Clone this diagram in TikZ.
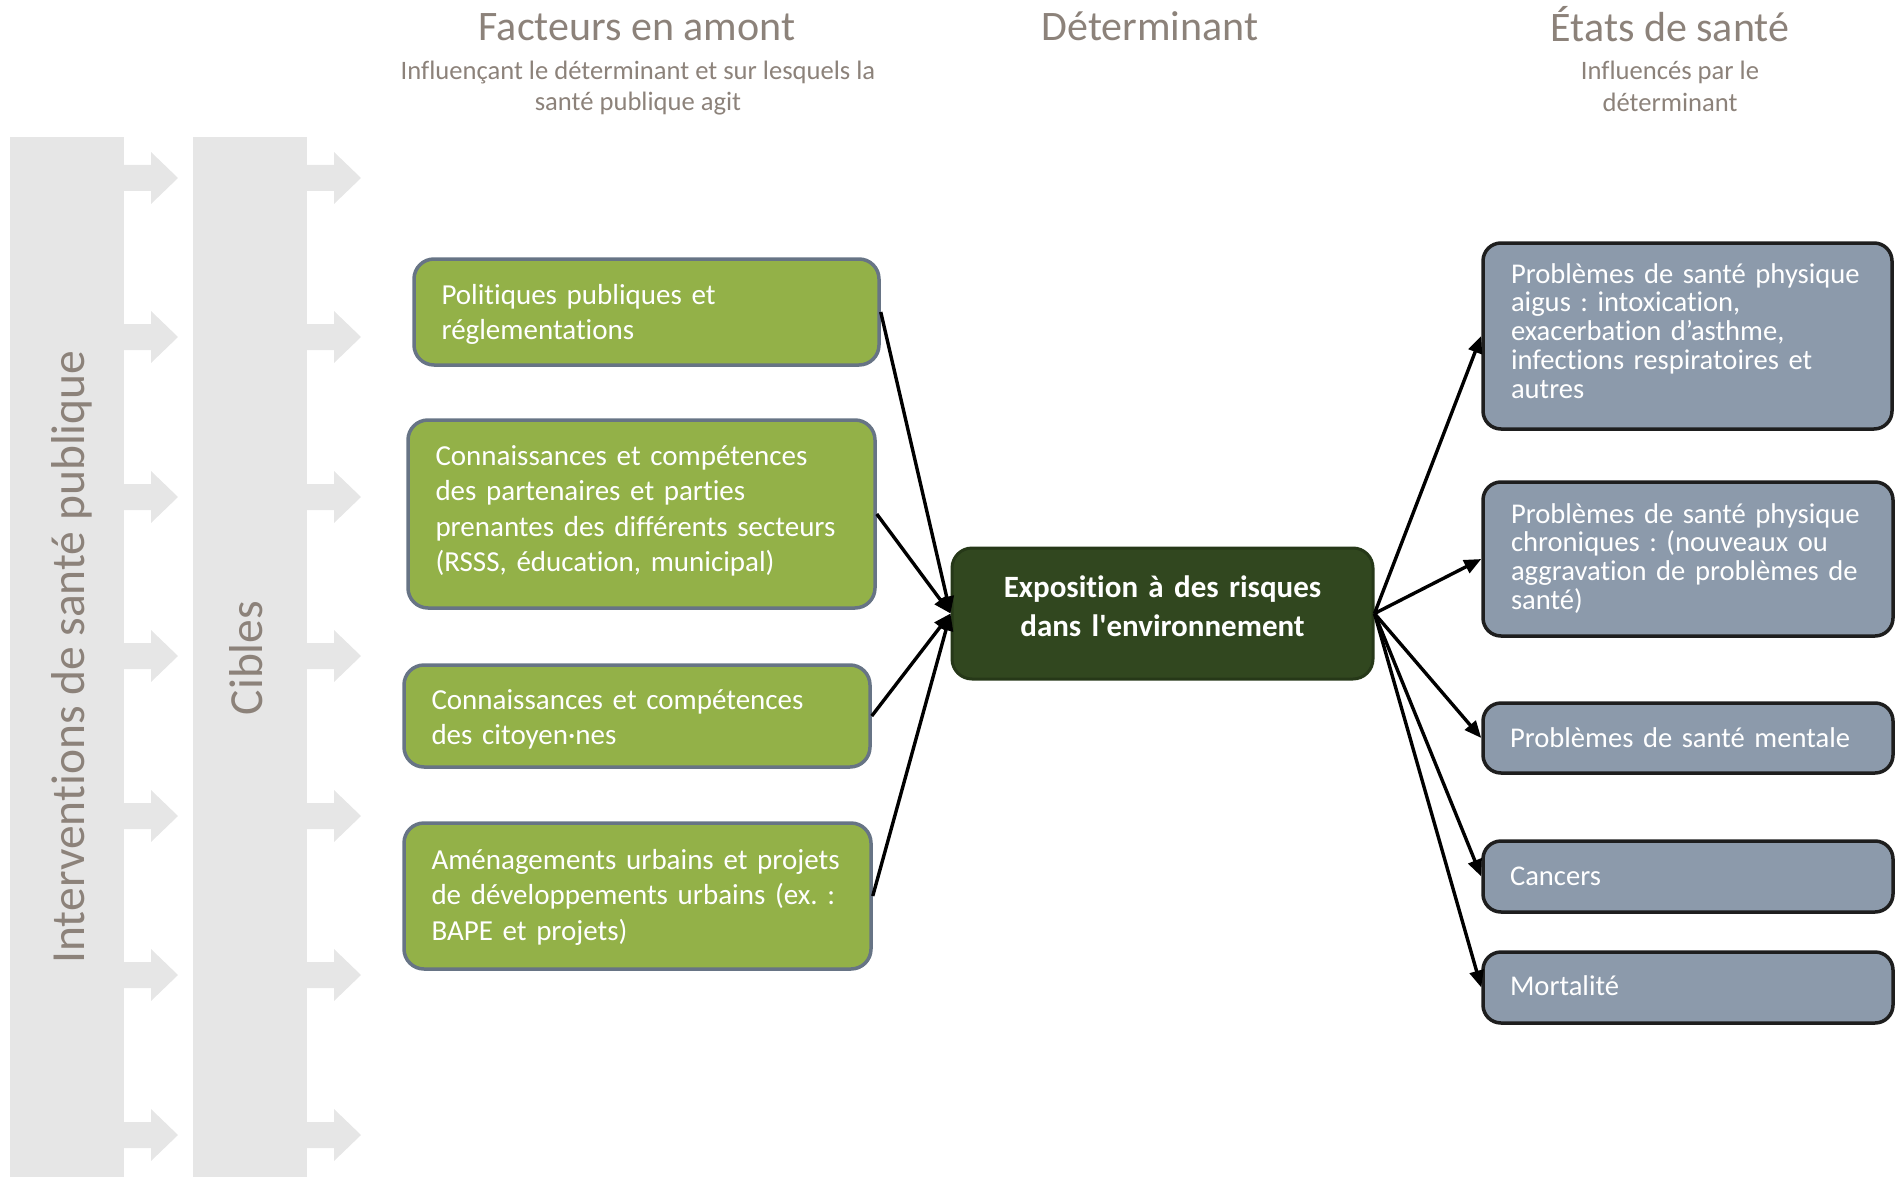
\documentclass[tikz,border=0pt]{standalone}
\usepackage{fontspec}
\setmainfont{Carlito}[Ligatures={NoCommon}]
\frenchspacing
\usetikzlibrary{arrows.meta}
\definecolor{barcol}{RGB}{230,230,230}
\definecolor{hdrcol}{RGB}{140,130,122}
\definecolor{gfill}{RGB}{147,177,72}
\definecolor{gborder}{RGB}{103,116,133}
\definecolor{cfill}{RGB}{49,71,31}
\definecolor{cborder}{RGB}{38,56,24}
\definecolor{rfill}{RGB}{140,154,171}
\definecolor{rborder}{RGB}{30,30,30}
\tikzset{
  hdr/.style={text=hdrcol, font=\fontsize{42}{50}\selectfont, inner sep=0pt},
  sub/.style={text=hdrcol, font=\fontsize{26.6}{30}\selectfont, inner sep=0pt},
  bartext/.style={text=hdrcol, font=\fontsize{47.5}{55}\selectfont, inner sep=0pt, rotate=90, anchor=base},
  gbox/.style={draw=gborder, fill=gfill, line width=3.5pt, rounded corners=20pt, text=white,
    font=\fontsize{29}{35.5}\selectfont, align=left, inner xsep=27.5pt, inner ysep=0pt,
    text height=18.7pt},
  cbox/.style={draw=cborder, fill=cfill, line width=3pt, rounded corners=20pt, text=white,
    font=\bfseries\fontsize{31}{39}\selectfont, align=center, inner xsep=10.5pt, inner ysep=0pt,
    text width=400pt, text height=20pt},
  rbox/.style={draw=rborder, fill=rfill, line width=3.5pt, rounded corners=18pt, text=white,
    font=\fontsize{28.6}{28.8}\selectfont, align=left, inner xsep=28pt, inner ysep=0pt,
    text height=18.3pt},
  conn/.style={draw=black, line width=3.4pt, -{Triangle[length=17pt,width=14pt]}}
}
\begin{document}
\begin{tikzpicture}[x=1pt,y=-1pt]
\useasboundingbox (0,0) rectangle (1902,1177);
% grey bars
\fill[barcol] (10,137) rectangle (124,1177);
\fill[barcol] (193,137) rectangle (307,1177);
\foreach \yy in {178,337,497,656,816,975,1135}{
  \foreach \xx in {124,307}{
    \fill[barcol] (\xx,\yy-13) -- ++(27,0) -- ++(0,-13) -- ++(27,26) -- ++(-27,26) -- ++(0,-13) -- ++(-27,0) -- cycle;
  }
}
\node[bartext] (interv) at (84,657) {Interventions de santé publique};
\node[bartext] (cibles) at (262,658) {Cibles};
% headers
\node[hdr, anchor=base] (h1) at (637,41) {Facteurs en amont};
\node[sub, anchor=base] (s1a) at (638,80) {Influençant le déterminant et sur lesquels la};
\node[sub, anchor=base] (s1b) at (638,111) {santé publique agit};
\node[hdr, anchor=base] (h2) at (1150,41) {Déterminant};
\node[hdr, anchor=base] (h3) at (1670,42) {États de santé};
\node[sub, anchor=base] (s3a) at (1670,80) {Influencés par le};
\node[sub, anchor=base] (s3b) at (1670,112) {déterminant};
% green boxes
\node[gbox, minimum width=465pt, minimum height=106pt, text width=410pt, text depth=34.7pt] (g1) at (646.5,312)
  {Politiques publiques et\\réglementations};
\node[gbox, minimum width=467pt, minimum height=188pt, text width=412pt, text depth=116.7pt] (g2) at (641.5,514)
  {Connaissances et compétences\\des partenaires et parties\\prenantes des différents secteurs\\(RSSS, éducation, municipal)};
\node[gbox, minimum width=466pt, minimum height=102pt, text width=411pt, text depth=32.7pt] (g3) at (637,716)
  {Connaissances et compétences\\des citoyen·nes};
\node[gbox, minimum width=467pt, minimum height=146pt, text width=412pt, text depth=72.7pt] (g4) at (637.5,896)
  {Aménagements urbains et projets\\de développements urbains (ex. :\\BAPE et projets)};
% central box
\node[cbox, minimum width=421pt, minimum height=131pt, text depth=53pt] (c) at (1162.5,613.5)
  {Exposition à des risques\\dans l\textquotesingle environnement};
% right boxes
\node[rbox, minimum width=409pt, minimum height=186pt, text width=353pt, text depth=124.3pt] (r1) at (1687.5,336)
  {Problèmes de santé physique\\aigus : intoxication,\\exacerbation d’asthme,\\infections respiratoires et\\autres};
\node[rbox, minimum width=410pt, minimum height=154pt, text width=354pt, text depth=90.3pt] (r2) at (1688,559)
  {Problèmes de santé physique\\chroniques : (nouveaux ou\\aggravation de problèmes de\\santé)};
\node[rbox, minimum width=410pt, minimum height=70pt, text width=356pt, inner xsep=27pt, text depth=0.3pt] (r3) at (1688,738)
  {Problèmes de santé mentale};
\node[rbox, minimum width=410pt, minimum height=71pt, text width=356pt, inner xsep=27pt, text depth=1.3pt] (r4) at (1688,876.5)
  {Cancers};
\node[rbox, minimum width=410pt, minimum height=71pt, text width=356pt, inner xsep=27pt, text depth=3.3pt] (r5) at (1688,987.5)
  {Mortalité};
% connectors
\draw[conn] (g1.east) -- (c.west);
\draw[conn] (g2.east) -- (c.west);
\draw[conn] (g3.east) -- (c.west);
\draw[conn] (g4.east) -- (c.west);
\draw[conn] (c.east) -- (r1.west);
\draw[conn] (c.east) -- (r2.west);
\draw[conn] (c.east) -- (r3.west);
\draw[conn] (c.east) -- (r4.west);
\draw[conn] (c.east) -- (r5.west);
\end{tikzpicture}
\end{document}
